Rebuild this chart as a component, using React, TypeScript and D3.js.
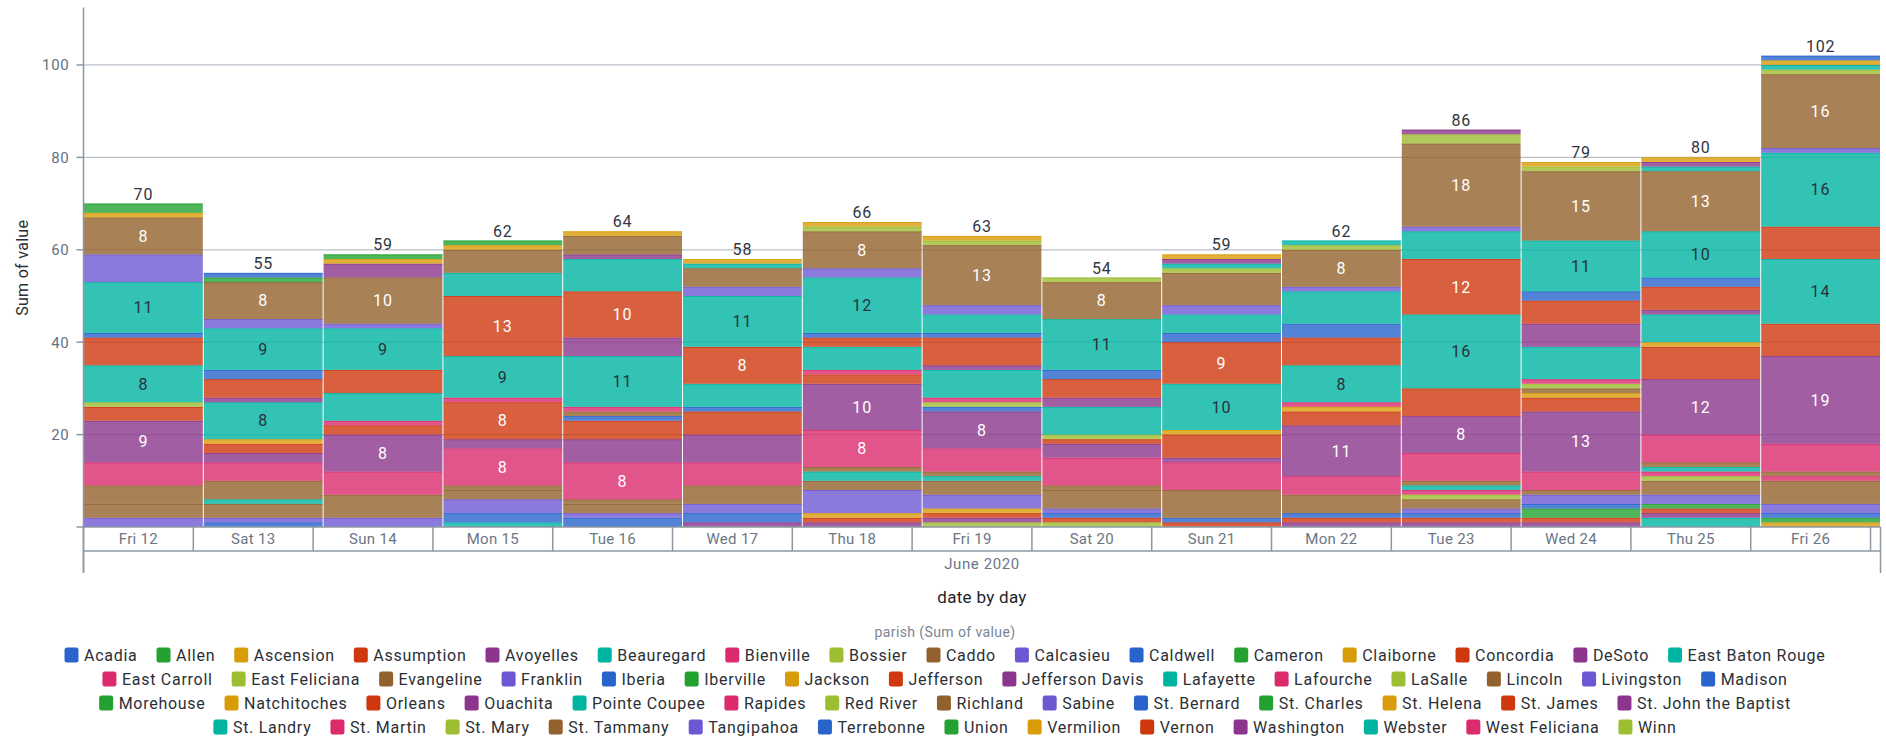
import React, { useMemo } from 'react';
import * as d3 from 'd3';

const W = 1886;
const H = 740;
const FONT = 'Roboto, "Noto Sans", sans-serif';

// plot area
const plotLeft = 83.5;
const plotRight = 1880.5;
const plotTop = 8.6;
const plotBottom = 527;

const days = ['Fri 12', 'Sat 13', 'Sun 14', 'Mon 15', 'Tue 16', 'Wed 17', 'Thu 18', 'Fri 19', 'Sat 20', 'Sun 21', 'Mon 22', 'Tue 23', 'Wed 24', 'Thu 25', 'Fri 26'];
const monthLabel = 'June 2020';
const yTicks = [0, 20, 40, 60, 80, 100];

const parishes = [
  'Acadia', 'Allen', 'Ascension', 'Assumption', 'Avoyelles', 'Beauregard', 'Bienville', 'Bossier', 'Caddo', 'Calcasieu',
  'Caldwell', 'Cameron', 'Claiborne', 'Concordia', 'DeSoto', 'East Baton Rouge', 'East Carroll', 'East Feliciana', 'Evangeline', 'Franklin',
  'Iberia', 'Iberville', 'Jackson', 'Jefferson', 'Jefferson Davis', 'Lafayette', 'Lafourche', 'LaSalle', 'Lincoln', 'Livingston',
  'Madison', 'Morehouse', 'Natchitoches', 'Orleans', 'Ouachita', 'Pointe Coupee', 'Rapides', 'Red River', 'Richland', 'Sabine',
  'St. Bernard', 'St. Charles', 'St. Helena', 'St. James', 'St. John the Baptist', 'St. Landry', 'St. Martin', 'St. Mary', 'St. Tammany', 'Tangipahoa',
  'Terrebonne', 'Union', 'Vermilion', 'Vernon', 'Washington', 'Webster', 'West Feliciana', 'Winn'
];
// legend rows break after these counts
const legendRowSizes = [16, 15, 14, 13];

const palette = ['#2864cc', '#23a231', '#d89c09', '#cf380f', '#8b368c', '#00b4a2', '#db2b6d', '#9dbd32', '#93612d', '#6e57d3'];

const fri12 = [['Allen', 2], ['Ascension', 1], ['Caddo', 8], ['Calcasieu', 6], ['East Baton Rouge', 11], ['Iberia', 1], ['Jefferson', 6], ['Lafayette', 8], ['LaSalle', 1], ['Orleans', 3], ['Ouachita', 9], ['Rapides', 5], ['Richland', 4], ['St. Tammany', 3], ['Tangipahoa', 2]];
const sat13 = [['Acadia', 1], ['Allen', 1], ['Caddo', 8], ['Calcasieu', 2], ['East Baton Rouge', 9], ['Iberia', 2], ['Jefferson', 4], ['Jefferson Davis', 1], ['Lafayette', 8], ['Natchitoches', 1], ['Orleans', 2], ['Ouachita', 2], ['Rapides', 4], ['Richland', 4], ['St. Landry', 1], ['St. Tammany', 3], ['Tangipahoa', 1], ['Terrebonne', 1]];
const sun14 = [['Allen', 1], ['Ascension', 1], ['Avoyelles', 3], ['Caddo', 10], ['Calcasieu', 1], ['East Baton Rouge', 9], ['Jefferson', 5], ['Lafayette', 6], ['Lafourche', 1], ['Orleans', 2], ['Ouachita', 8], ['Rapides', 5], ['St. Tammany', 5], ['Tangipahoa', 2]];
const mon15 = [['Allen', 1], ['Ascension', 1], ['Caddo', 5], ['East Baton Rouge', 5], ['Jefferson', 13], ['Lafayette', 9], ['Lafourche', 1], ['Orleans', 8], ['Ouachita', 2], ['Rapides', 8], ['Richland', 1], ['St. Tammany', 2], ['Tangipahoa', 3], ['Terrebonne', 2], ['Webster', 1]];
const tue16 = [['Ascension', 1], ['Caddo', 4], ['DeSoto', 1], ['East Baton Rouge', 7], ['Jefferson', 10], ['Jefferson Davis', 4], ['Lafayette', 11], ['Lafourche', 1], ['Lincoln', 1], ['Madison', 1], ['Orleans', 4], ['Ouachita', 5], ['Rapides', 8], ['Richland', 1], ['St. Tammany', 2], ['Tangipahoa', 1], ['Terrebonne', 2]];
const wed17 = [['Ascension', 1], ['Beauregard', 1], ['Caddo', 4], ['Calcasieu', 2], ['East Baton Rouge', 11], ['Jefferson', 8], ['Lafayette', 5], ['Madison', 1], ['Orleans', 5], ['Ouachita', 6], ['Rapides', 5], ['St. Tammany', 4], ['Tangipahoa', 2], ['Terrebonne', 2], ['Washington', 1]];
const thu18 = [['Ascension', 1], ['Bossier', 1], ['Caddo', 8], ['Calcasieu', 2], ['East Baton Rouge', 12], ['Iberia', 1], ['Jefferson', 2], ['Lafayette', 5], ['Lafourche', 1], ['Orleans', 2], ['Ouachita', 10], ['Rapides', 8], ['Richland', 1], ['St. Landry', 2], ['St. Tammany', 2], ['Tangipahoa', 5], ['Vermilion', 1], ['Vernon', 1], ['Washington', 1]];
const fri19 = [['Ascension', 1], ['Bossier', 1], ['Caddo', 13], ['Calcasieu', 2], ['East Baton Rouge', 4], ['Iberia', 1], ['Jefferson', 6], ['Jefferson Davis', 1], ['Lafayette', 6], ['Lafourche', 1], ['LaSalle', 1], ['Madison', 1], ['Ouachita', 8], ['Rapides', 5], ['Richland', 1], ['St. Landry', 1], ['St. Tammany', 3], ['Tangipahoa', 3], ['Vermilion', 1], ['Vernon', 1], ['Washington', 1], ['Winn', 1]];
const sat20 = [['Bossier', 1], ['Caddo', 8], ['East Baton Rouge', 11], ['Iberia', 2], ['Jefferson', 4], ['Jefferson Davis', 2], ['Lafayette', 6], ['LaSalle', 1], ['Orleans', 1], ['Ouachita', 3], ['Rapides', 6], ['Richland', 1], ['St. Tammany', 4], ['Tangipahoa', 1], ['Terrebonne', 1], ['Vernon', 1], ['Winn', 1]];
const sun21 = [['Ascension', 1], ['Avoyelles', 1], ['Beauregard', 1], ['Bossier', 1], ['Caddo', 7], ['Calcasieu', 2], ['East Baton Rouge', 4], ['Iberia', 2], ['Jefferson', 9], ['Lafayette', 10], ['Natchitoches', 1], ['Orleans', 5], ['Ouachita', 1], ['Rapides', 6], ['St. Tammany', 6], ['Terrebonne', 1], ['Vernon', 1]];
const mon22 = [['Beauregard', 1], ['Bossier', 1], ['Caddo', 8], ['Calcasieu', 1], ['East Baton Rouge', 7], ['Iberia', 3], ['Jefferson', 6], ['Lafayette', 8], ['Lafourche', 1], ['Natchitoches', 1], ['Orleans', 3], ['Ouachita', 11], ['Rapides', 4], ['St. Tammany', 4], ['Terrebonne', 1], ['Vernon', 1], ['Washington', 1]];
const tue23 = [['Avoyelles', 1], ['Bossier', 2], ['Caddo', 18], ['Calcasieu', 1], ['East Baton Rouge', 6], ['Jefferson', 12], ['Lafayette', 16], ['Orleans', 6], ['Ouachita', 8], ['Rapides', 6], ['Richland', 1], ['St. Landry', 1], ['St. Martin', 1], ['St. Mary', 1], ['St. Tammany', 2], ['Tangipahoa', 1], ['Terrebonne', 1], ['Vernon', 1], ['Washington', 1]];
const wed24 = [['Ascension', 1], ['Bossier', 1], ['Caddo', 15], ['East Baton Rouge', 11], ['Iberia', 2], ['Jefferson', 5], ['Jefferson Davis', 5], ['Lafayette', 7], ['Lafourche', 1], ['LaSalle', 1], ['Lincoln', 1], ['Natchitoches', 1], ['Orleans', 3], ['Ouachita', 13], ['Rapides', 4], ['St. Tammany', 1], ['Tangipahoa', 2], ['Terrebonne', 1], ['Union', 2], ['Vernon', 1], ['Washington', 1]];
const thu25 = [['Ascension', 1], ['Avoyelles', 1], ['Beauregard', 1], ['Caddo', 13], ['East Baton Rouge', 10], ['Iberia', 2], ['Jefferson', 5], ['Jefferson Davis', 1], ['Lafayette', 6], ['Natchitoches', 1], ['Orleans', 7], ['Ouachita', 12], ['Rapides', 6], ['Richland', 1], ['St. Landry', 1], ['St. Martin', 1], ['St. Mary', 1], ['St. Tammany', 3], ['Tangipahoa', 2], ['Union', 1], ['Vernon', 1], ['Washington', 1], ['Webster', 2]];
const fri26 = [['Acadia', 1], ['Ascension', 1], ['Beauregard', 1], ['Bossier', 1], ['Caddo', 16], ['Calcasieu', 1], ['East Baton Rouge', 16], ['Jefferson', 7], ['Lafayette', 14], ['Orleans', 7], ['Ouachita', 19], ['Rapides', 6], ['Richland', 1], ['St. Martin', 1], ['St. Tammany', 5], ['Tangipahoa', 2], ['Terrebonne', 1], ['Union', 1], ['Vermilion', 1]];

const dayValues = [fri12, sat13, sun14, mon15, tue16, wed17, thu18, fri19, sat20, sun21, mon22, tue23, wed24, thu25, fri26] as [string, number][][];

function measureTexts(texts: string[], font: string) {
  const ctx = document.createElement('canvas').getContext('2d');
  if (!ctx) return texts.map(t => t.length * 8);
  ctx.font = font;
  return texts.map(t => ctx.measureText(t).width);
}

export default function App() {
  const rows = useMemo(() => days.map((day, i) => {
    const r: any = {day};
    parishes.forEach(p => { r[p] = 0; });
    dayValues[i].forEach(([p, v]) => { r[p] = v; });
    return r;
  }), []);

  const totals = rows.map(r => d3.sum(parishes, p => r[p]));
  // last legend entry sits at the bottom of each stack
  const series = d3.stack<any>().keys(parishes.slice().reverse())(rows);
  const color = d3.scaleOrdinal<string, string>()
    .domain(parishes)
    .range(parishes.map((_, i) => palette[i % palette.length]));

  const t0 = new Date(Date.UTC(2020, 5, 12, 2));
  const t1 = new Date(Date.UTC(2020, 5, 27, 2));
  const x = d3.scaleUtc().domain([t0, t1]).range([plotLeft, plotRight]);
  const y = d3.scaleLinear().domain([0, (d3.max(totals) as number) * 1.1]).range([plotBottom, plotTop]);
  const barStart = (i: number) => x(d3.utcDay.offset(t0, i));
  const cellEdges = [t0, ...d3.utcDay.range(d3.utcDay.ceil(t0), t1), t1];

  const axisColor = '#8d97a2';
  const axisRow1 = 551;
  const axisRow2 = 573;

  // legend layout
  const legendFont = 16;
  const widths = measureTexts(parishes, `${legendFont}px Roboto`);
  const row1Chars = d3.sum(parishes.slice(0, legendRowSizes[0]), p => p.length);
  const row1Measured = d3.sum(widths.slice(0, legendRowSizes[0]));
  const ls = Math.max(-0.5, Math.min(1.5, (1164 - row1Measured) / row1Chars));
  const legendItems: {name: string; x: number; y: number}[] = [];
  let start = 0;
  legendRowSizes.forEach((n, ri) => {
    const names = parishes.slice(start, start + n);
    const ws = names.map((p, k) => 19.5 + widths[start + k] + ls * p.length);
    const total = d3.sum(ws) + 19 * (n - 1);
    let cx = 945 - total / 2;
    names.forEach((p, k) => {
      legendItems.push({name: p, x: cx, y: 655 + ri * 24});
      cx += ws[k] + 19;
    });
    start += n;
  });

  return (
    <svg width={W} height={H} style={{position: 'absolute', left: 0, top: 0, fontFamily: FONT}}>
      {/* grid */}
      {yTicks.filter(t => t > 0).map(t => (
        <line key={'g' + t} x1={plotLeft} x2={plotRight} y1={y(t)} y2={y(t)} stroke="#b9c0c7" strokeWidth={1.3}/>
      ))}
      {/* bars */}
      {series.map(s => (
        <g key={s.key}>
          {s.map((d, i) => {
            const v = d[1] - d[0];
            if (v <= 0) return null;
            const x0 = barStart(i) + 0.5;
            const w = barStart(i + 1) - barStart(i) - 1;
            const c = color(s.key);
            return (
              <g key={i}>
                <rect x={x0} y={y(d[1])} width={w} height={y(d[0]) - y(d[1])} fill={c} fillOpacity={0.8}/>
                <line x1={x0} x2={x0 + w} y1={y(d[1]) + 0.5} y2={y(d[1]) + 0.5} stroke={c} strokeOpacity={0.7} strokeWidth={1}/>
              </g>
            );
          })}
        </g>
      ))}
      {/* segment labels */}
      {series.map(s => s.map((d, i) => {
        const v = d[1] - d[0];
        if (v < 8) return null;
        const cx = (barStart(i) + barStart(i + 1)) / 2;
        const dark = parishes.indexOf(s.key) % palette.length === 5;
        return (
          <text key={s.key + i} x={cx} y={(y(d[0]) + y(d[1])) / 2} dy="0.36em" textAnchor="middle"
                fontSize={16} letterSpacing={1} fill={dark ? '#27313c' : '#ffffff'}>{v}</text>
        );
      }))}
      {/* totals */}
      {totals.map((t, i) => (
        <text key={'t' + i} x={(barStart(i) + barStart(i + 1)) / 2} y={y(t) - 4} textAnchor="middle"
              fontSize={16} letterSpacing={0.8} fill="#2f3640">{t}</text>
      ))}
      {/* y axis */}
      <line x1={plotLeft} x2={plotLeft} y1={plotTop - 1} y2={axisRow2} stroke={axisColor} strokeWidth={1.5}/>
      {yTicks.map(t => (
        <g key={'y' + t}>
          <line x1={plotLeft - 7} x2={plotLeft} y1={y(t)} y2={y(t)} stroke={axisColor} strokeWidth={1.5}/>
          {t > 0 && (
            <text x={plotLeft - 14} y={y(t)} dy="0.36em" textAnchor="end" fontSize={15} letterSpacing={0.7} fill="#66717f">{t}</text>
          )}
        </g>
      ))}
      <text transform={`translate(22,${(plotTop + plotBottom) / 2}) rotate(-90)`} textAnchor="middle" dy="0.36em"
            fontSize={16} letterSpacing={0.3} fill="#2b2f36">Sum of value</text>
      {/* x axis */}
      <line x1={plotLeft} x2={plotRight} y1={plotBottom} y2={plotBottom} stroke={axisColor} strokeWidth={1.5}/>
      <line x1={plotLeft} x2={plotRight} y1={axisRow1} y2={axisRow1} stroke={axisColor} strokeWidth={1.5}/>
      {cellEdges.map((e, k) => (
        <line key={'e' + k} x1={x(e)} x2={x(e)} y1={plotBottom}
              y2={k === 0 || k === cellEdges.length - 1 ? axisRow2 : axisRow1} stroke={axisColor} strokeWidth={1.5}/>
      ))}
      {days.map((d, k) => (
        <text key={'d' + k} x={(x(cellEdges[k]) + x(cellEdges[k + 1])) / 2} y={(plotBottom + axisRow1) / 2} dy="0.36em"
              textAnchor="middle" fontSize={15} letterSpacing={0.3} fill="#6b7685">{d}</text>
      ))}
      <text x={(plotLeft + plotRight) / 2} y={(axisRow1 + axisRow2) / 2 + 2} dy="0.36em" textAnchor="middle"
            fontSize={15} letterSpacing={0.6} fill="#6b7685">{monthLabel}</text>
      <text x={(plotLeft + plotRight) / 2} y={597} dy="0.36em" textAnchor="middle" fontSize={17} letterSpacing={0.3} fill="#1f2328">date by day</text>
      {/* legend */}
      <text x={945} y={632} dy="0.36em" textAnchor="middle" fontSize={14} letterSpacing={0.4} fill="#7a8594">parish (Sum of value)</text>
      {legendItems.map(it => (
        <g key={it.name} transform={`translate(${it.x},${it.y})`}>
          <rect x={0} y={-7.5} width={14} height={15} rx={2.5} fill={color(it.name)}/>
          <text x={19.5} y={0} dy="0.36em" fontSize={legendFont} letterSpacing={ls} fill="#2b2f36">{it.name}</text>
        </g>
      ))}
    </svg>
  );
}
